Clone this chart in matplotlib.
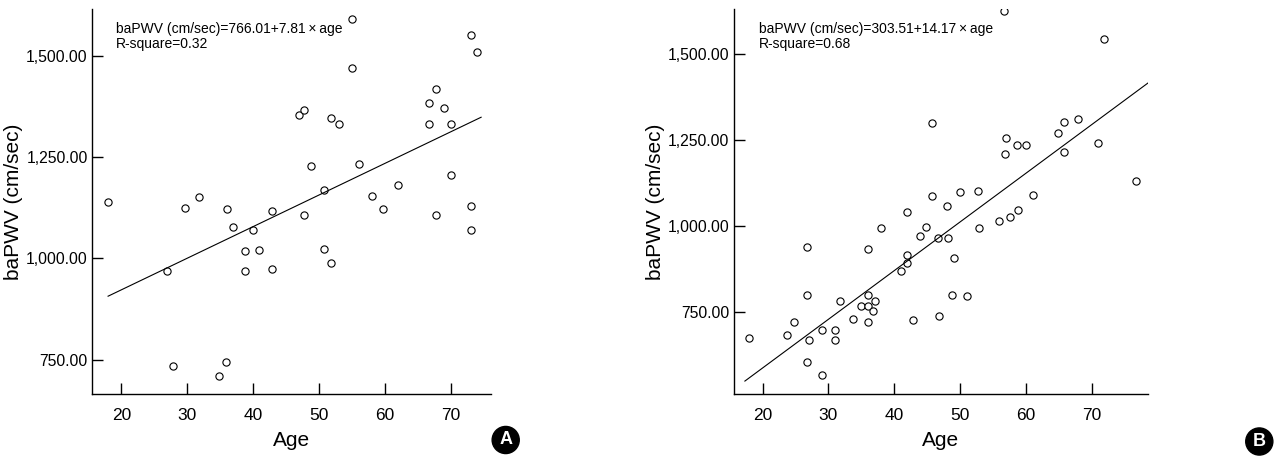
import numpy as np
import matplotlib
matplotlib.use('Agg')
import matplotlib.pyplot as plt

# panel A: age vs baPWV
age_a = [55, 73, 74, 55, 67.7, 66.7, 68.9, 46.9, 47.8, 51.8, 53.1, 66.7, 70,
         48.8, 56.1, 70, 62, 50.8, 58.1, 18, 31.8, 29.7, 36, 42.9, 47.8, 59.7,
         67.7, 73, 36.9, 40, 73, 38.8, 40.9, 50.8, 51.8, 26.9, 38.8, 42.9,
         27.9, 35.9, 34.9]
pwv_a = [1591, 1551, 1510, 1471, 1418, 1385, 1372, 1353, 1366, 1346, 1333, 1333, 1333,
         1228, 1234, 1207, 1182, 1168, 1155, 1140, 1151, 1125, 1121, 1116, 1108, 1122,
         1108, 1130, 1077, 1069, 1069, 1017, 1021, 1022, 989, 969, 969, 973,
         735, 743, 710]

# panel B
age_b = [56.7, 71.8, 45.8, 64.8, 65.8, 67.9, 56.9, 58.7, 60, 56.8, 65.8, 70.9,
         76.8, 45.8, 50, 52.7, 61.1, 48, 41.9, 58.8, 57.6, 55.9, 38, 44.8, 52.8,
         43.9, 46.7, 48.1, 26.7, 36, 49, 41.9, 41.9, 41, 26.7, 36, 48.8, 51,
         31.7, 37, 35, 36, 36.7, 33.7, 36, 42.8, 46.8, 24.7, 23.7, 18, 29, 31,
         27, 31, 26.7, 29]
pwv_b = [1626, 1545, 1300, 1270, 1302, 1313, 1255, 1235, 1235, 1211, 1216, 1242,
         1132, 1087, 1098, 1103, 1089, 1058, 1041, 1048, 1026, 1015, 995, 997, 994,
         971, 966, 966, 939, 932, 907, 916, 893, 868, 798, 798, 798, 797,
         783, 783, 768, 768, 752, 730, 722, 726, 737, 722, 682, 674, 698, 698,
         667, 667, 604, 565]

# regression lines: intercept, slope, age range, R-square
fit_a = (766.01, 7.81)
fit_b = (303.51, 14.17)
range_a = [18, 74.6]
range_b = [17.3, 78.7]
rsq_a = 0.32
rsq_b = 0.68

yticks = [750, 1000, 1250, 1500]
xticks = [20, 30, 40, 50, 60, 70]

font = ['Liberation Sans', 'DejaVu Sans']


def panel(ax, age, pwv, fit, xr, rsq, xlim, ylim):
    ax.plot(age, pwv, 'o', ms=5.2, mfc='white', mec='black', mew=0.8, ls='none')
    xs = np.array(xr)
    ax.plot(xs, fit[0] + fit[1] * xs, color='black', lw=0.8)
    ax.set_xlim(xlim)
    ax.set_ylim(ylim)
    ax.spines['top'].set_visible(False)
    ax.spines['right'].set_visible(False)
    for s in ['left', 'bottom']:
        ax.spines[s].set_linewidth(1.0)
    ax.set_xticks(xticks)
    ax.set_yticks(yticks)
    ax.set_yticklabels(['{:,.2f}'.format(v) for v in yticks], family=font, fontsize=11.3)
    ax.set_xticklabels([str(v) for v in xticks], family=font, fontsize=12.5)
    ax.tick_params(axis='x', direction='in', length=8, width=1.0, pad=10)
    ax.tick_params(axis='y', direction='in', length=8, width=1.0, pad=3)
    ax.set_xlabel('Age', family=font, fontsize=15, labelpad=6)
    ax.set_ylabel('baPWV (cm/sec)', family=font, fontsize=15, labelpad=2)
    txt = 'baPWV (cm/sec)={:.2f}+{:.2f}\u2009\u00d7\u2009age\nR-square={:.2f}'.format(fit[0], fit[1], rsq)
    ax.text(0.06, 0.967, txt, transform=ax.transAxes, va='top', ha='left',
            family=font, fontsize=10, linespacing=1.15)


fig = plt.figure(figsize=(12.76, 4.58), dpi=100)
ax1 = fig.add_axes([92 / 1276, 1 - 394 / 458, 399 / 1276, 385 / 458])
ax2 = fig.add_axes([733.7 / 1276, 1 - 394 / 458, 414.3 / 1276, 385 / 458])

panel(ax1, age_a, pwv_a, fit_a, range_a, rsq_a, (15.56, 76.1), (665, 1616))
panel(ax2, age_b, pwv_b, fit_b, range_b, rsq_b, (15.6, 78.55), (511, 1632))

for lab, x, y in [('A', 505.7, 440), ('B', 1259.3, 441.5)]:
    fig.text(x / 1276, 1 - y / 458, lab, color='white', fontweight='bold',
             fontsize=13, ha='center', va='center', family=font,
             bbox=dict(boxstyle='circle,pad=0.28', fc='black', ec='black'))

fig.savefig('out.png', dpi=100)
